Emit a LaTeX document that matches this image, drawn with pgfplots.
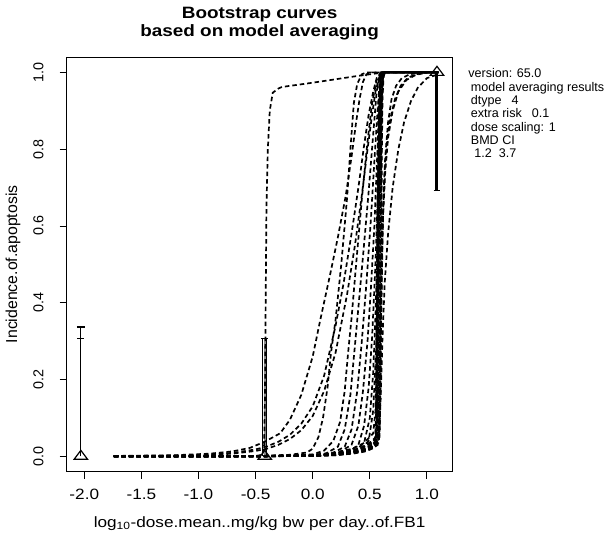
\documentclass[border=0pt]{standalone}
\usepackage{fontspec}
\setmainfont{Liberation Sans}
\newfontfamily\hfont[FakeStretch=1.15]{Liberation Sans}
\usepackage{pgfplots}
\pgfplotsset{compat=1.18}
\begin{document}
\begin{tikzpicture}
\pgfplotsset{bs/.style={black, line width=1.7bp, dash pattern=on 4.5bp off 3bp, mark=none},
  eb/.style={black, line width=1.2bp, mark=none, solid}}
\begin{axis}[
 at={(0,0)}, anchor=south west,
 scale only axis, width=385.8bp, height=414.7bp,
 xmin=-2.154, xmax=1.224, ymin=-0.04, ymax=1.04,
 axis line style={line width=0.9bp},
 xtick={-2,-1.5,-1,-0.5,0,0.5,1},
 xticklabels={-2.0,-1.5,-1.0,-0.5,0.0,0.5,1.0},
 ytick={0,0.2,0.4,0.6,0.8,1},
 yticklabels={0.0,0.2,0.4,0.6,0.8,1.0},
 xtick pos=bottom, ytick pos=left,
 tick align=outside, major tick length=7bp,
 every tick/.style={black, line width=0.9bp},
 xticklabel style={font=\hfont\fontsize{15}{18}\selectfont, anchor=base, inner sep=0pt},
 xticklabel shift=20.6bp,
 yticklabel style={font=\fontsize{14.4}{17}\selectfont, rotate=90, anchor=base, inner sep=0pt},
 yticklabel shift=16.4bp,
 xlabel={log\textsubscript{10}-dose.mean..mg/kg bw per day..of.FB1},
 xlabel style={font=\hfont\fontsize{15}{18}\selectfont, at={(axis description cs:0.5,-0.1335)}, anchor=base, inner sep=0pt},
 ylabel={Incidence.of.apoptosis},
 ylabel style={font=\fontsize{15.9}{18}\selectfont, at={(axis description cs:-0.1288,0.5)}, anchor=base, inner sep=0pt},
 clip=false,
]
% observed data: error bars
\addplot[eb] coordinates {(-2.03,0)(-2.03,0.337)};
\addplot[eb] coordinates {(-2.065,0.337)(-1.995,0.337)};
\addplot[eb] coordinates {(-2.06,0.306)(-2.0,0.306)};
\addplot[black!45, line width=2.4bp, mark=none] coordinates {(-0.420,0)(-0.420,0.306)};
\addplot[eb] coordinates {(-0.437,0)(-0.437,0.306)};
\addplot[eb] coordinates {(-0.403,0)(-0.403,0.306)};
\addplot[eb] coordinates {(-0.45,0.306)(-0.39,0.306)};
\addplot[black, line width=3bp, mark=none] coordinates {(1.088,0.692)(1.088,1.0)};
\addplot[eb, line width=1.5bp] coordinates {(1.058,0.692)(1.118,0.692)};
\addplot[only marks, mark=triangle, mark size=6bp, mark options={black, line width=1.2bp, solid, xscale=1.3}] coordinates {(-2.03,0) (-0.42,0) (1.088,1.0)};
% E
\addplot[bs] coordinates {(-1.74,0)(-1.2,0)(-0.8,0)(-0.5,0.001)(-0.44,0.004)(-0.425,0.03)(-0.418,0.15)(-0.412,0.4)(-0.405,0.65)(-0.393,0.80)(-0.376,0.90)(-0.35,0.947)(-0.30,0.958)(-0.269,0.962)(-0.024,0.972)(0.2,0.982)(0.4,0.991)(0.55,0.997)(0.65,1.0)(1.10,1.0)};
% A
\addplot[bs] coordinates {(-1.74,0.001)(-1.2,0.003)(-0.9,0.007)(-0.7,0.013)(-0.55,0.022)(-0.42,0.038)(-0.285,0.060)(-0.2,0.095)(-0.1,0.16)(0.0,0.26)(0.066,0.355)(0.15,0.47)(0.22,0.57)(0.29,0.68)(0.34,0.78)(0.38,0.87)(0.41,0.93)(0.44,0.975)(0.47,0.995)(0.52,1.0)(1.10,1.0)};
\addplot[bs] coordinates {(-1.74,0.0005)(-1.2,0.002)(-0.9,0.005)(-0.7,0.009)(-0.5,0.018)(-0.4,0.026)(-0.3,0.038)(-0.2,0.056)(-0.1,0.085)(0.0,0.13)(0.1,0.21)(0.2,0.34)(0.27,0.45)(0.34,0.58)(0.40,0.70)(0.45,0.81)(0.49,0.89)(0.53,0.95)(0.56,0.985)(0.60,1.0)(1.10,1.0)};
\addplot[bs] coordinates {(-1.74,0.0003)(-1.2,0.0015)(-0.9,0.004)(-0.7,0.007)(-0.5,0.014)(-0.4,0.02)(-0.3,0.03)(-0.2,0.045)(-0.1,0.068)(0.0,0.105)(0.1,0.17)(0.2,0.27)(0.3,0.42)(0.37,0.55)(0.43,0.68)(0.48,0.80)(0.52,0.89)(0.55,0.95)(0.58,0.985)(0.61,1.0)(1.10,1.0)};
% B
\addplot[bs] coordinates {(-1.74,0)(-1.0,0)(-0.5,0.001)(-0.2,0.004)(-0.05,0.01)(0.0,0.02)(0.05,0.05)(0.09,0.10)(0.13,0.18)(0.16,0.27)(0.20,0.355)(0.25,0.50)(0.30,0.67)(0.33,0.80)(0.36,0.92)(0.39,0.97)(0.43,0.995)(0.47,1.0)(1.10,1.0)};
% C0
\addplot[bs] coordinates {(-1.74,0)(-1.0,0)(-0.4,0.001)(0.0,0.005)(0.1,0.015)(0.18,0.04)(0.24,0.09)(0.28,0.17)(0.31,0.27)(0.34,0.36)(0.38,0.50)(0.43,0.67)(0.48,0.82)(0.52,0.92)(0.56,0.98)(0.6,1.0)(1.10,1.0)};
% C
\addplot[bs] coordinates {(-1.74,0)(-1.0,0)(-0.4,0.0005)(0.0,0.002)(0.1,0.005)(0.22,0.025)(0.28,0.07)(0.33,0.16)(0.39,0.355)(0.44,0.52)(0.49,0.69)(0.53,0.84)(0.56,0.95)(0.59,0.995)(0.62,1)(1.10,1.0)};
\addplot[bs] coordinates {(-1.74,0)(-1.0,0)(-0.4,0.0004)(0.0,0.002)(0.15,0.005)(0.28,0.025)(0.34,0.07)(0.39,0.17)(0.43,0.3)(0.47,0.45)(0.51,0.62)(0.54,0.77)(0.57,0.91)(0.595,0.985)(0.62,1)(1.10,1.0)};
\addplot[bs] coordinates {(-1.74,0)(-1.0,0)(-0.4,0.0004)(0.0,0.002)(0.2,0.005)(0.34,0.03)(0.40,0.08)(0.44,0.17)(0.48,0.3)(0.51,0.44)(0.54,0.6)(0.56,0.75)(0.58,0.88)(0.60,0.97)(0.62,1)(1.10,1.0)};
\addplot[bs] coordinates {(-1.74,0)(-1.0,0)(-0.4,0.0005)(0.0,0.002)(0.3,0.008)(0.40,0.03)(0.45,0.08)(0.49,0.18)(0.52,0.31)(0.545,0.47)(0.565,0.64)(0.58,0.8)(0.595,0.93)(0.61,0.99)(0.625,1)(1.10,1.0)};
\addplot[bs] coordinates {(-1.74,0)(-1.0,0)(-0.4,0.0005)(0.0,0.003)(0.35,0.01)(0.45,0.035)(0.50,0.1)(0.53,0.22)(0.55,0.37)(0.57,0.57)(0.585,0.77)(0.60,0.92)(0.615,0.985)(0.63,1)(1.10,1.0)};
\addplot[bs] coordinates {(-1.74,0)(-1.0,0)(-0.4,0.0006)(0.0,0.003)(0.4,0.015)(0.49,0.04)(0.53,0.12)(0.555,0.28)(0.57,0.47)(0.585,0.68)(0.598,0.86)(0.61,0.96)(0.625,1)(1.10,1.0)};
% V
\addplot[bs] coordinates {(-1.74,0)(-1,0)(-0.4,0.0005)(0,0.002)(0.2,0.005)(0.35,0.01)(0.45,0.017)(0.52,0.027)(0.55,0.04)(0.562,0.1)(0.568,0.35)(0.574,0.65)(0.581,0.88)(0.59,0.97)(0.60,0.995)(0.615,1)(1.1,1)};
\addplot[bs] coordinates {(-1.74,0)(-1,0)(-0.4,0.0003)(0,0.0015)(0.2,0.004)(0.35,0.009)(0.45,0.015)(0.52,0.024)(0.56,0.035)(0.57,0.09)(0.576,0.3)(0.582,0.62)(0.588,0.86)(0.596,0.96)(0.606,0.995)(0.62,1)(1.1,1)};
\addplot[bs] coordinates {(-1.74,0)(-1,0)(-0.4,0.0003)(0,0.001)(0.2,0.003)(0.35,0.008)(0.45,0.014)(0.52,0.022)(0.565,0.04)(0.578,0.1)(0.584,0.35)(0.59,0.68)(0.596,0.89)(0.604,0.975)(0.615,0.998)(0.63,1)(1.1,1)};
\addplot[bs] coordinates {(-1.74,0)(-1,0)(-0.4,0.0008)(0,0.003)(0.2,0.008)(0.35,0.016)(0.45,0.026)(0.52,0.04)(0.55,0.05)(0.556,0.15)(0.562,0.45)(0.568,0.75)(0.576,0.92)(0.586,0.985)(0.6,1)(1.1,1)};
\addplot[bs] coordinates {(-1.74,0)(-1,0)(-0.4,0.0002)(0,0.001)(0.2,0.003)(0.35,0.007)(0.45,0.012)(0.52,0.02)(0.57,0.03)(0.585,0.08)(0.59,0.3)(0.595,0.6)(0.6,0.85)(0.607,0.96)(0.617,0.995)(0.63,1)(1.1,1)};
\addplot[bs] coordinates {(-1.74,0)(-1,0)(-0.4,0.001)(0,0.004)(0.2,0.01)(0.35,0.02)(0.45,0.035)(0.53,0.06)(0.55,0.12)(0.56,0.3)(0.568,0.55)(0.576,0.78)(0.585,0.93)(0.597,0.99)(0.61,1)(1.1,1)};
\addplot[bs] coordinates {(-1.74,0)(-1,0)(-0.4,0.0003)(0,0.0012)(0.2,0.004)(0.35,0.009)(0.45,0.016)(0.52,0.025)(0.575,0.035)(0.582,0.12)(0.587,0.4)(0.592,0.72)(0.598,0.9)(0.607,0.98)(0.62,1)(1.1,1)};
\addplot[bs] coordinates {(-1.74,0)(-1,0)(-0.4,0.0006)(0,0.0025)(0.2,0.007)(0.35,0.014)(0.45,0.024)(0.52,0.036)(0.56,0.05)(0.567,0.2)(0.572,0.5)(0.578,0.78)(0.585,0.93)(0.595,0.99)(0.61,1)(1.1,1)};
\addplot[bs] coordinates {(-1.74,0)(-1,0)(-0.4,0.0003)(0,0.0013)(0.2,0.004)(0.35,0.009)(0.45,0.016)(0.52,0.026)(0.58,0.04)(0.59,0.15)(0.596,0.45)(0.601,0.75)(0.607,0.92)(0.615,0.985)(0.63,1)(1.1,1)};
\addplot[bs] coordinates {(-1.74,0)(-1,0)(-0.4,0.0007)(0,0.003)(0.2,0.008)(0.35,0.015)(0.45,0.025)(0.52,0.037)(0.545,0.045)(0.558,0.1)(0.566,0.4)(0.573,0.72)(0.58,0.9)(0.59,0.975)(0.605,1)(1.1,1)};
\addplot[bs] coordinates {(-1.74,0)(-1,0)(-0.4,0.0005)(0,0.002)(0.2,0.006)(0.35,0.012)(0.45,0.02)(0.52,0.031)(0.568,0.045)(0.574,0.2)(0.579,0.55)(0.584,0.82)(0.59,0.95)(0.6,0.995)(0.615,1)(1.1,1)};
\addplot[bs] coordinates {(-1.74,0)(-1,0)(-0.4,0.0004)(0,0.0018)(0.2,0.005)(0.35,0.011)(0.45,0.019)(0.52,0.03)(0.585,0.05)(0.595,0.2)(0.6,0.5)(0.605,0.78)(0.611,0.93)(0.62,0.99)(0.635,1)(1.1,1)};
% R
\addplot[bs] coordinates {(-1.74,0)(-1,0)(-0.4,0.0005)(0.0,0.002)(0.3,0.008)(0.5,0.02)(0.57,0.04)(0.585,0.12)(0.595,0.3)(0.605,0.5)(0.615,0.63)(0.63,0.74)(0.65,0.82)(0.68,0.88)(0.72,0.93)(0.77,0.965)(0.83,0.985)(0.9,0.995)(1.0,1.0)(1.1,1.0)};
\addplot[bs] coordinates {(-1.74,0)(-1,0)(-0.4,0.0004)(0.0,0.0015)(0.3,0.007)(0.5,0.018)(0.58,0.04)(0.595,0.15)(0.61,0.3)(0.63,0.45)(0.66,0.58)(0.70,0.70)(0.75,0.80)(0.80,0.87)(0.86,0.925)(0.92,0.96)(1.0,0.985)(1.1,0.995)};
\addplot[bs] coordinates {(-1.74,0)(-1,0)(-0.4,0.0004)(0.0,0.0015)(0.3,0.007)(0.5,0.018)(0.58,0.04)(0.59,0.15)(0.60,0.35)(0.61,0.55)(0.62,0.68)(0.635,0.78)(0.66,0.87)(0.69,0.93)(0.73,0.965)(0.78,0.985)(0.85,0.995)(0.95,1)(1.1,1)};
\addplot[bs] coordinates {(-1.74,0)(-1,0)(-0.4,0.0005)(0.0,0.002)(0.3,0.008)(0.5,0.02)(0.575,0.05)(0.585,0.2)(0.60,0.45)(0.615,0.62)(0.635,0.74)(0.66,0.83)(0.70,0.9)(0.75,0.95)(0.82,0.98)(0.9,0.993)(1.0,1)(1.1,1)};
\end{axis}
% title
\node[font=\hfont\bfseries\fontsize{16.5}{19}\selectfont, anchor=base] at (192.9bp,452.7bp) {Bootstrap curves};
\node[font=\hfont\bfseries\fontsize{16.5}{19}\selectfont, anchor=base] at (192.9bp,434.7bp) {based on model averaging};
% side text
\begin{scope}[every node/.style={font=\fontsize{12.6}{15}\selectfont, anchor=base west, inner sep=0pt}]
\node at (401.5bp,393.7bp) {version: 65.0};
\node at (401.5bp,380.4bp) {\hspace*{2.5bp}model averaging results};
\node at (401.5bp,367.1bp) {\hspace*{2.5bp}dtype\hspace*{10bp}4};
\node at (401.5bp,353.8bp) {\hspace*{2.5bp}extra risk\hspace*{10bp}0.1};
\node at (401.5bp,340.5bp) {\hspace*{2.5bp}dose scaling: 1};
\node at (401.5bp,327.2bp) {\hspace*{2.5bp}BMD CI};
\node at (401.5bp,313.9bp) {\hspace*{6bp}1.2\hspace*{7bp}3.7};
\end{scope}
\pgfresetboundingbox
\path (-66.7bp,-61.3bp) rectangle (543.3bp,471.7bp);
\end{tikzpicture}
\end{document}
